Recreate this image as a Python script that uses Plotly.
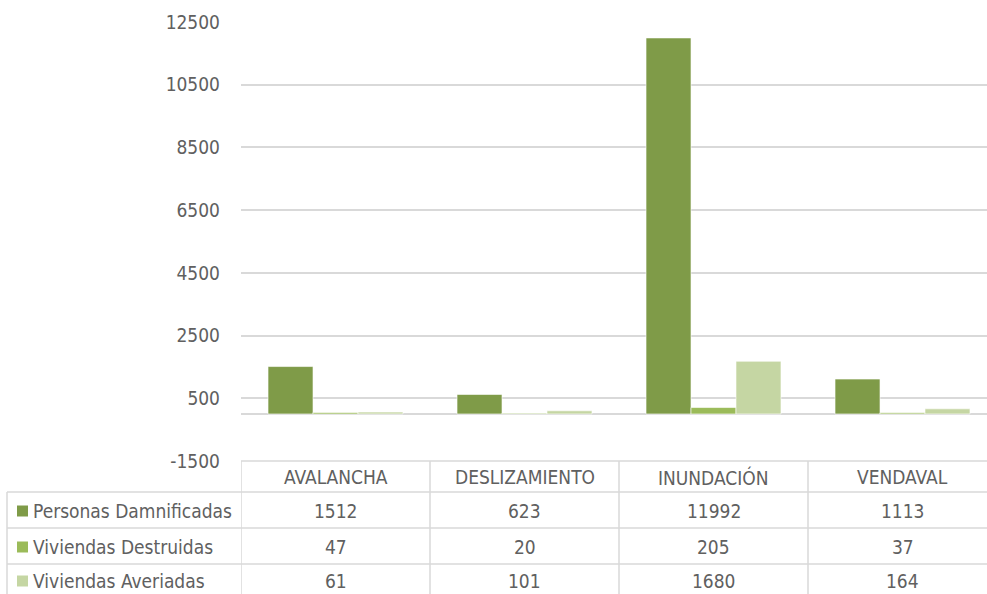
import plotly.graph_objects as go

categories = ["AVALANCHA", "DESLIZAMIENTO", "INUNDACIÓN", "VENDAVAL"]
series_names = ["Personas Damnificadas", "Viviendas Destruidas", "Viviendas Averiadas"]
personas = [1512, 623, 11992, 1113]
destruidas = [47, 20, 205, 37]
averiadas = [61, 101, 1680, 164]
y_ticks = [-1500, 500, 2500, 4500, 6500, 8500, 10500, 12500]

colors = ["#7F9B48", "#9BBB59", "#C5D6A3"]
series = [personas, destruidas, averiadas]

FONT = "DejaVu Sans Condensed, Liberation Sans Narrow, sans-serif"
FS = 19
TXT = "#606060"
GRID = "#D9D9D9"

W_FIG, H_FIG = 987, 594
L, T, R, B = 241, 22, 0, 133
W = W_FIG - L - R
H = H_FIG - T - B


def px_x(x):
    return (x - L) / W


def px_y(y):
    return (T + H - y) / H


fig = go.Figure()
for name, vals, c in zip(series_names, series, colors):
    fig.add_trace(go.Bar(
        x=categories, y=vals, name=name,
        marker=dict(color=c, line=dict(color="rgba(255,255,255,0.6)", width=1)),
        showlegend=False,
    ))

# table geometry (pixels)
row_lines = [461, 492, 528, 564]
row_centers = [511, 547, 581]
header_center = 477
shapes = []
shapes.append(dict(type="line", xref="paper", yref="paper",
                   x0=px_x(241), x1=1.0, y0=px_y(461), y1=px_y(461),
                   line=dict(color=GRID, width=1.5)))
for yl in row_lines[1:]:
    shapes.append(dict(type="line", xref="paper", yref="paper",
                       x0=px_x(7), x1=1.0, y0=px_y(yl), y1=px_y(yl),
                       line=dict(color=GRID, width=1.5)))
shapes.append(dict(type="line", xref="paper", yref="paper",
                   x0=px_x(7), x1=px_x(7), y0=px_y(492), y1=px_y(600),
                   line=dict(color=GRID, width=1.5)))
for k in range(len(categories)):
    shapes.append(dict(type="line", xref="x", yref="paper",
                       x0=k - 0.5, x1=k - 0.5, y0=px_y(461), y1=px_y(600),
                       line=dict(color=GRID, width=1.5)))
for i, c in enumerate(colors):
    yc = row_centers[i]
    shapes.append(dict(type="rect", xref="paper", yref="paper",
                       x0=px_x(17), x1=px_x(28), y0=px_y(yc - 5.5), y1=px_y(yc + 5.5),
                       fillcolor=c, line=dict(width=0)))

annotations = []
for k, cat in enumerate(categories):
    annotations.append(dict(x=k, xref="x", y=px_y(header_center), yref="paper",
                            text=cat, showarrow=False, xanchor="center", yanchor="middle",
                            font=dict(family=FONT, size=FS, color=TXT)))
for i, (name, vals) in enumerate(zip(series_names, series)):
    yc = row_centers[i]
    annotations.append(dict(x=px_x(31), xref="paper", y=px_y(yc), yref="paper",
                            text=name, showarrow=False, xanchor="left", yanchor="middle",
                            font=dict(family=FONT, size=FS, color=TXT)))
    for k, v in enumerate(vals):
        annotations.append(dict(x=k, xref="x", y=px_y(yc), yref="paper",
                                text=str(v), showarrow=False, xanchor="center", yanchor="middle",
                                font=dict(family=FONT, size=FS, color=TXT)))

fig.update_layout(
    width=W_FIG, height=H_FIG,
    margin=dict(l=L, r=R, t=T, b=B, pad=0),
    paper_bgcolor="white", plot_bgcolor="white",
    barmode="group", bargap=0.286, bargroupgap=0,
    shapes=shapes, annotations=annotations,
    font=dict(family=FONT, size=FS, color=TXT),
)
fig.update_xaxes(range=[-0.5, -0.5 + W / 189.0], showticklabels=False, showgrid=False,
                 zeroline=False, showline=False, ticks="")
fig.update_yaxes(range=[-1500, 12500], tickvals=y_ticks, ticktext=[str(v) for v in y_ticks],
                 showgrid=True, gridcolor=GRID, gridwidth=1.5,
                 zeroline=True, zerolinecolor=GRID, zerolinewidth=1.5,
                 showline=False, ticks="", ticklabelstandoff=20,
                 tickfont=dict(family=FONT, size=FS, color=TXT))

fig.write_html("out.html",
               config={"displayModeBar": False},
               post_script="document.body.style.margin='0';document.body.style.overflow='hidden';")
